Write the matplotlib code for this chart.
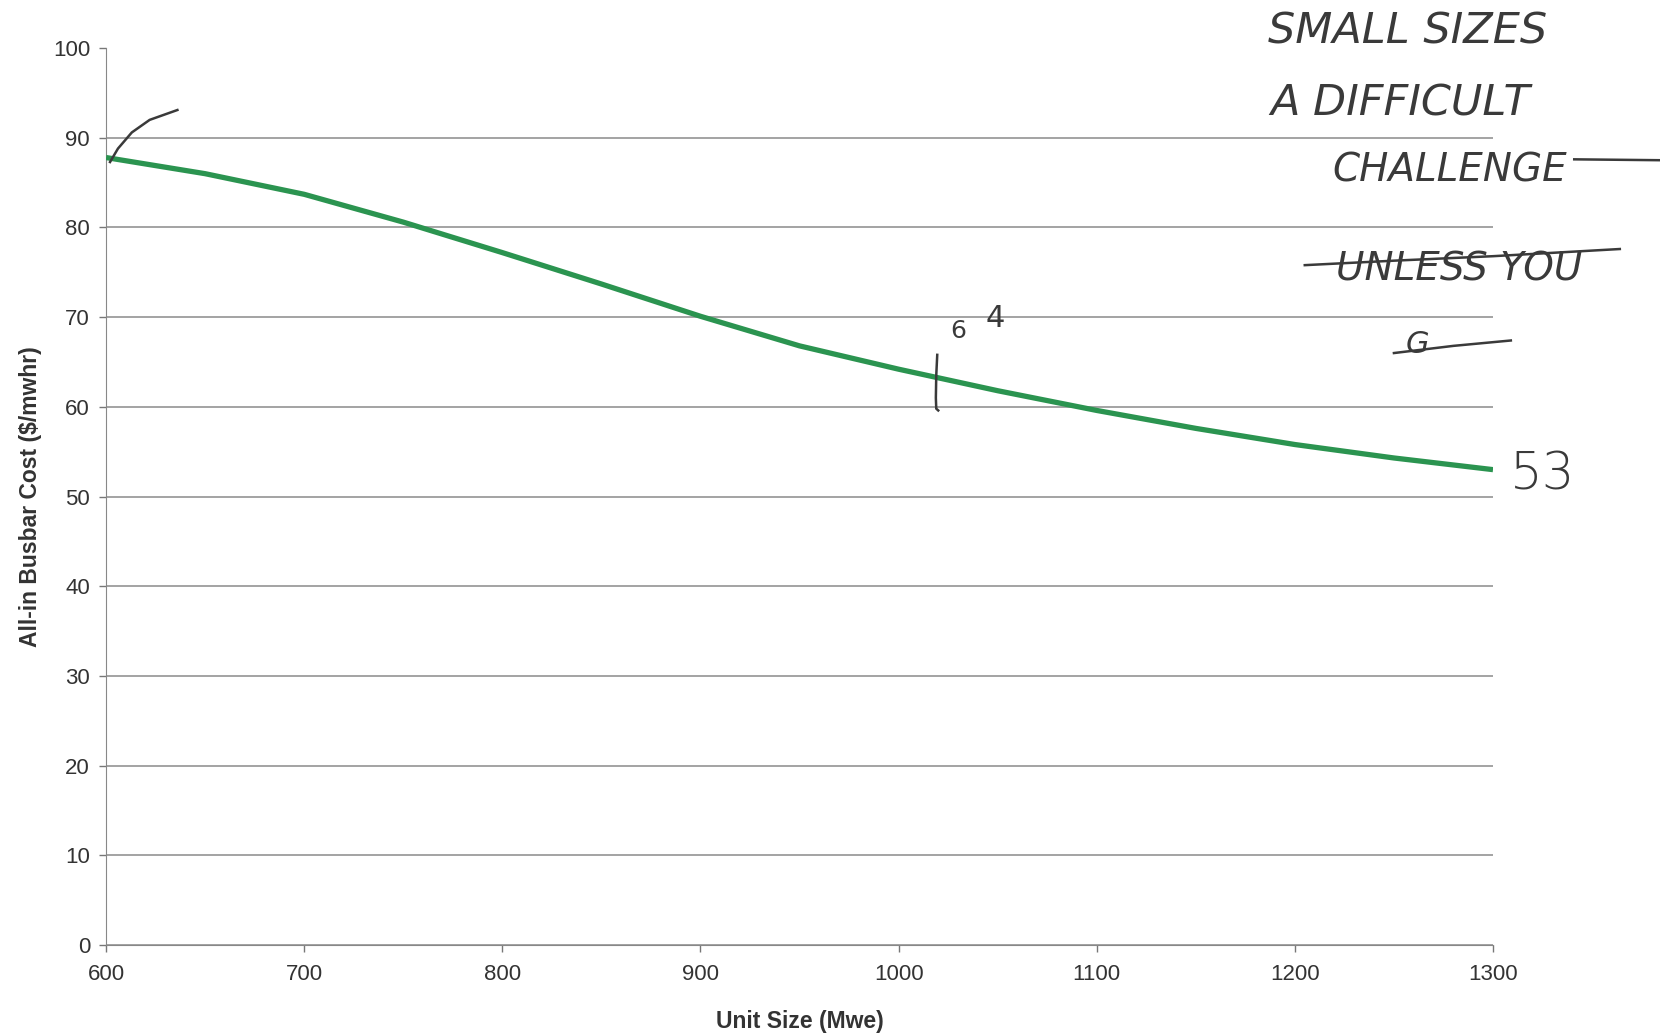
import numpy as np
import matplotlib.pyplot as plt

# --- data ---
unit_size = [600, 650, 700, 750, 800, 850, 900, 950, 1000, 1050, 1100, 1150, 1200, 1250, 1300]
busbar_cost = [87.8, 86.0, 83.7, 80.6, 77.2, 73.7, 70.1, 66.8, 64.2, 61.8, 59.6, 57.6, 55.8, 54.3, 53.0]

x_ticks = [600, 700, 800, 900, 1000, 1100, 1200, 1300]
y_ticks = [0, 10, 20, 30, 40, 50, 60, 70, 80, 90, 100]

# handwritten notes on the printout (text, x, y in data units, size, italic, weight)
notes = [
    ("SMALL SIZES", 1257, 101.8, 31, True, 'light'),
    ("A DIFFICULT", 1253, 93.8, 31, True, 'light'),
    ("CHALLENGE", 1278, 86.3, 28, True, 'light'),
    ("UNLESS YOU", 1283, 75.3, 28, True, 'light'),
    ("G", 1262, 66.9, 22, True, 'light'),
    ("6", 1030, 68.5, 18, False, 'normal'),
    ("4", 1049, 69.9, 22, False, 'normal'),
    ("53", 1325, 52.4, 37, False, 'light'),
]
# pen strokes: dash after CHALLENGE, strike-outs, tick mark, vertical mark
strokes = [
    ([1341, 1385], [87.6, 87.5]),
    ([1205, 1250, 1300, 1364], [75.8, 76.3, 76.8, 77.6]),
    ([1250, 1280, 1309], [66.0, 66.8, 67.4]),
    ([602, 606, 613, 622, 636], [87.3, 88.8, 90.6, 92.0, 93.1]),
    ([1019.5, 1019, 1018.8, 1019, 1020], [65.8, 63.5, 61.0, 59.8, 59.6]),
]

plt.rcParams['font.family'] = ['Liberation Sans', 'DejaVu Sans']

fig = plt.figure(figsize=(16.6, 10.35), dpi=100)
ax = fig.add_axes([0.0639, 0.087, 0.8355, 0.8665])

ax.plot(unit_size, busbar_cost, color='#2b9450', lw=3.8, solid_capstyle='butt', zorder=3)

ax.set_xlim(600, 1300)
ax.set_ylim(0, 100)
ax.set_xticks(x_ticks)
ax.set_yticks(y_ticks)
ax.tick_params(axis='both', labelsize=16, labelcolor='#333333', color='#777777',
               direction='out', length=5, width=1)
ax.tick_params(axis='x', pad=9)
ax.tick_params(axis='y', pad=6.5)
ax.yaxis.grid(True, color='#8a8a8a', lw=1.1)
ax.yaxis.get_gridlines()[-1].set_visible(False)  # no line at 100
ax.set_axisbelow(True)

for side in ['top', 'right']:
    ax.spines[side].set_visible(False)
ax.spines['left'].set_color('#888888')
ax.spines['bottom'].set_color('#888888')

ax.set_xlabel('Unit Size (Mwe)', fontsize=16.5, fontweight='bold', color='#333333', labelpad=18)
ax.set_ylabel('All-in Busbar Cost ($/mwhr)', fontsize=16.5, fontweight='bold', color='#333333', labelpad=8)

for txt, x, y, size, it, wt in notes:
    ax.text(x, y, txt, fontsize=size, family='DejaVu Sans', fontweight=wt,
            style='italic' if it else 'normal',
            color='#3a3a3a', ha='center', va='center', clip_on=False)
for xs, ys in strokes:
    ax.plot(xs, ys, color='#3a3a3a', lw=1.8, clip_on=False, zorder=4)

fig.savefig('out.png', dpi=100)
